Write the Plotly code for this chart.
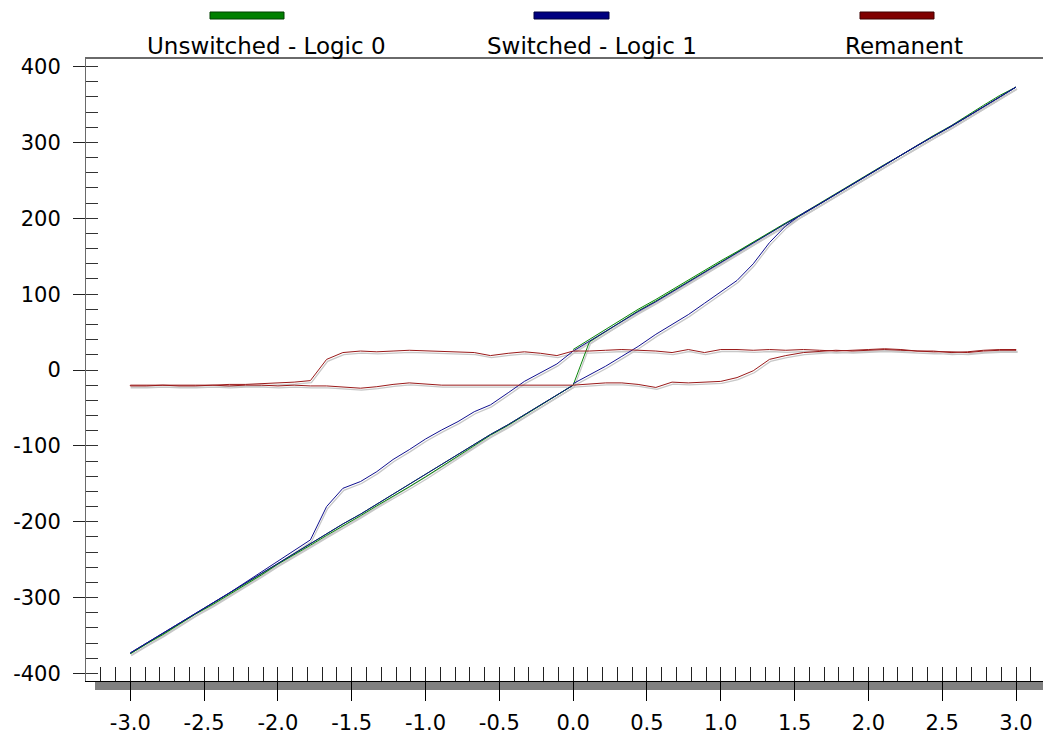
import plotly.graph_objects as go

# ---------------- data ----------------
V_POS = [0.00, 0.11, 0.22, 0.33, 0.44, 0.56, 0.67, 0.78, 0.89, 1.00, 1.11, 1.22, 1.33, 1.44,
         1.56, 1.67, 1.78, 1.89, 2.00, 2.11, 2.22, 2.33, 2.44, 2.56, 2.67, 2.78, 2.89, 3.00]
V_NEG = [0.00, -0.11, -0.22, -0.33, -0.44, -0.56, -0.67, -0.78, -0.89, -1.00, -1.11, -1.22, -1.33, -1.44,
         -1.56, -1.67, -1.78, -1.89, -2.00, -2.11, -2.22, -2.33, -2.44, -2.56, -2.67, -2.78, -2.89, -3.00]

# Unswitched - Logic 0 (green)
UNSW_UP_POS = [27, 40, 53, 67, 80, 93, 106, 118, 131, 144, 156, 169, 182, 194, 207, 220, 232, 245,
               258, 271, 283, 296, 309, 322, 336, 349, 362, 373]
UNSW_DN_POS = [-20, 37, 51, 64, 78, 91, 104, 116, 129, 142, 155, 168, 181, 193, 206, 219, 232, 245,
               257, 270, 283, 296, 308, 321, 334, 347, 360, 373]
UNSW_DN_NEG = [-20, -33, -46, -60, -73, -86, -100, -113, -127, -141, -154, -166, -179, -192, -205, -218,
               -231, -243, -256, -270, -283, -296, -309, -322, -336, -349, -361, -374]
UNSW_UP_NEG = [-20, -33, -46, -59, -72, -85, -98, -112, -125, -138, -151, -164, -177, -190, -203, -216,
               -229, -242, -255, -268, -281, -294, -307, -321, -334, -347, -360, -373]

# Switched - Logic 1 (blue)
SW_UP_POS = [-18, -7, 5, 18, 31, 47, 60, 73, 88, 103, 118, 140, 168, 190, 207, 219, 232, 244,
             257, 270, 283, 296, 308, 321, 334, 347, 360, 373]
SW_DN_POS = [25, 38, 51, 64, 77, 90, 103, 115, 128, 141, 154, 167, 180, 193, 206, 219, 232, 244,
             257, 270, 283, 296, 308, 321, 334, 347, 360, 373]
SW_DN_NEG = [25, 8, -4, -15, -30, -46, -55, -68, -79, -91, -105, -118, -134, -147, -156, -180, -224,
             -238, -252, -266, -281, -294, -307, -321, -334, -347, -360, -373]
SW_UP_NEG = [-20, -33, -46, -59, -72, -85, -98, -112, -125, -138, -151, -164, -177, -190, -203, -216,
             -229, -242, -255, -268, -281, -294, -307, -321, -334, -347, -360, -373]

# Remanent (red)
REM_UP_POS = [-20, -19, -17, -17, -19, -23, -16, -17, -16, -15, -10, -1, 14, 19, 23, 25, 26, 25,
              26, 27, 26, 25, 24, 24, 23, 25, 26, 26]
REM_DN_POS = [25, 25, 26, 27, 26, 25, 23, 27, 23, 27, 27, 26, 27, 26, 27, 26, 25, 26,
              27, 28, 27, 25, 25, 23, 24, 26, 27, 27]
REM_DN_NEG = [25, 19, 22, 24, 22, 19, 23, 24, 25, 26, 26, 25, 24, 25, 23, 14, -14, -16,
              -17, -18, -19, -19, -20, -20, -20, -20, -20, -20]
REM_UP_NEG = [-20, -20, -20, -20, -20, -20, -20, -20, -20, -19, -17, -19, -22, -24, -22, -21, -21, -20,
              -21, -20, -20, -21, -20, -21, -21, -20, -21, -21]

SERIES = [
    ("Unswitched - Logic 0", "#0a860a", UNSW_UP_POS, UNSW_DN_POS, UNSW_DN_NEG, UNSW_UP_NEG),
    ("Switched - Logic 1", "#10108f", SW_UP_POS, SW_DN_POS, SW_DN_NEG, SW_UP_NEG),
    ("Remanent", "#9a1a1a", REM_UP_POS, REM_DN_POS, REM_DN_NEG, REM_UP_NEG),
]

X_TICKS = [-3.0, -2.5, -2.0, -1.5, -1.0, -0.5, 0.0, 0.5, 1.0, 1.5, 2.0, 2.5, 3.0]
Y_TICKS = [-400, -300, -200, -100, 0, 100, 200, 300, 400]

# ---------------- layout geometry ----------------
OFF = 8                      # page body margin of the browser
EXTRA = 8                    # let the plot run past the right window edge
W, H = 1051 - OFF + EXTRA, 736 - OFF
ML, MR, MT = 86 - OFF, 0, 59 - OFF
MB = H - (681 - OFF)
PW, PH = W - ML - MR, H - MT - MB
XS = 965 / (3.237 + 3.30)    # px per volt
XR = [-3.30, 3.237 + EXTRA / XS]
YR = [-410, 410]
xs = PW / (XR[1] - XR[0])
ys = PH / (YR[1] - YR[0])
# shadow offset (pixels)
SDX, SDY = 1.0, 2.0
XR_SH = [XR[0] - SDX / xs, XR[1] - SDX / xs]
YR_SH = [YR[0] + SDY / ys, YR[1] + SDY / ys]

def loop(up_pos, dn_pos, dn_neg, up_neg):
    x = V_POS + V_POS[::-1] + V_NEG + V_NEG[::-1]
    y = up_pos + dn_pos[::-1] + dn_neg + up_neg[::-1]
    return x, y

fig = go.Figure()
fig.add_trace(go.Scatter(x=[], y=[], xaxis="x", yaxis="y", showlegend=False))
for name, col, a, b, c, d in SERIES:
    x, y = loop(a, b, c, d)
    fig.add_trace(go.Scatter(x=x, y=y, mode="lines", xaxis="x2", yaxis="y2",
                             line=dict(color="#c8c8c8", width=1.3), showlegend=False,
                             hoverinfo="skip"))
for name, col, a, b, c, d in SERIES:
    x, y = loop(a, b, c, d)
    fig.add_trace(go.Scatter(x=x, y=y, mode="lines", xaxis="x3", yaxis="y3", name=name,
                             line=dict(color=col, width=1.0), showlegend=False))

FONT = "DejaVu Sans"
tickfont = dict(family=FONT, size=21, color="black")

common = dict(showgrid=False, zeroline=False, automargin=False)
fig.update_layout(
    width=W, height=H,
    margin=dict(l=ML, r=MR, t=MT, b=MB, pad=0, autoexpand=False),
    paper_bgcolor="white", plot_bgcolor="rgba(0,0,0,0)",
    showlegend=False,
    xaxis=dict(range=XR, showline=True, linecolor="black",
               linewidth=1, ticks="outside", ticklen=19, tickwidth=1, tickcolor="black",
               tickvals=X_TICKS, ticktext=[f"{v:.1f}" for v in X_TICKS],
               tickfont=tickfont, ticklabelstandoff=4, **common),
    yaxis=dict(range=YR, showline=True, linecolor="#6a6a6a",
               linewidth=1, ticks="outside", ticklen=12, tickwidth=1, tickcolor="#222",
               tickvals=Y_TICKS, ticktext=[str(v) for v in Y_TICKS],
               tickfont=tickfont, ticklabelstandoff=8, **common),
    xaxis2=dict(range=XR_SH, overlaying="x", anchor="y2", side="top",
                showline=True, linecolor="#6a6a6a", linewidth=2,
                ticks="", showticklabels=False, **common),
    yaxis2=dict(range=YR_SH, overlaying="y", anchor="x2",
                showline=False, ticks="", showticklabels=False, **common),
    xaxis3=dict(range=XR, overlaying="x", anchor="y3",
                showline=False, ticks="inside", ticklen=14, tickwidth=1, tickcolor="#222",
                tick0=0, dtick=0.1, showticklabels=False, **common),
    yaxis3=dict(range=YR, overlaying="y", anchor="x3",
                showline=False, ticks="inside", ticklen=12, tickwidth=1, tickcolor="#333",
                tick0=0, dtick=20, showticklabels=False, **common),
)

def px_x(p):
    return (p - OFF - ML) / PW

def px_y(p):
    return (H - MB - (p - OFF)) / PH

# gray band under x axis
fig.add_shape(type="rect", xref="paper", yref="paper", layer="below",
              x0=px_x(95), x1=1.0, y0=px_y(690), y1=px_y(681.5),
              fillcolor="#808080", line=dict(width=0))

# legend (bars above, labels below)
LEG = [("Unswitched - Logic 0", "#008000", "#004000", 210, 284, 266),
       ("Switched - Logic 1", "#000080", "#000040", 534, 609, 592),
       ("Remanent", "#800000", "#400000", 860, 934, 904)]
for text, fill, edge, bx0, bx1, tx in LEG:
    fig.add_shape(type="rect", xref="paper", yref="paper",
                  x0=px_x(bx0), x1=px_x(bx1), y0=px_y(19), y1=px_y(12),
                  fillcolor=fill, line=dict(color=edge, width=1))
    fig.add_annotation(text=text, xref="paper", yref="paper", x=px_x(tx), y=px_y(46),
                       xanchor="center", yanchor="middle", showarrow=False,
                       font=dict(family=FONT, size=23, color="black"))

fig.write_html("out.html")
